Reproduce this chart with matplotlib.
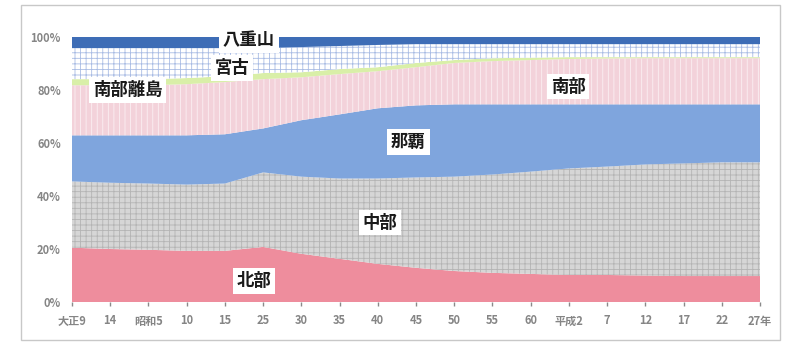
import matplotlib
matplotlib.use("Agg")
import matplotlib.pyplot as plt
from matplotlib.patches import Rectangle
import numpy as np

plt.rcParams["font.family"] = ["Noto Sans CJK JP", "DejaVu Sans"]
plt.rcParams["hatch.linewidth"] = 0.6

# Census years (category axis)
years = ["大正9", "14", "昭和5", "10", "15", "25", "30", "35", "40", "45",
         "50", "55", "60", "平成2", "7", "12", "17", "22", "27年"]

# Regional share of population (%), bottom to top of the stack
hokubu = [20.5, 20.0, 19.7, 19.3, 19.3, 20.8, 18.2, 16.3, 14.4, 12.9,
          11.7, 11.0, 10.6, 10.2, 10.2, 10.0, 9.8, 9.8, 9.8]
chubu = [25.0, 25.0, 25.0, 25.0, 25.4, 28.1, 29.1, 30.3, 32.2, 34.1,
         35.6, 37.1, 38.6, 40.2, 40.9, 41.9, 42.5, 42.9, 42.9]
naha = [17.4, 17.9, 18.2, 18.6, 18.6, 16.6, 21.3, 24.2, 26.5, 27.2,
        27.3, 26.5, 25.4, 24.2, 23.5, 22.7, 22.3, 21.9, 21.9]
nanbu = [18.9, 18.9, 18.9, 19.3, 19.7, 18.6, 16.2, 15.2, 14.0, 14.4,
         15.6, 16.3, 16.7, 17.1, 17.3, 17.4, 17.4, 17.4, 17.4]
nanbu_ritou = [2.3, 2.3, 2.3, 2.3, 2.2, 2.3, 1.9, 1.9, 1.5, 1.6,
               1.1, 1.1, 0.9, 0.7, 0.5, 0.4, 0.4, 0.4, 0.4]
miyako = [11.7, 11.7, 11.7, 11.3, 10.6, 9.4, 9.5, 8.7, 8.4, 7.1,
          6.0, 5.3, 5.1, 4.9, 4.9, 4.9, 4.9, 4.9, 4.9]
yaeyama = [4.2, 4.2, 4.2, 4.2, 4.2, 4.2, 3.8, 3.4, 3.0, 2.7,
           2.7, 2.7, 2.7, 2.7, 2.7, 2.7, 2.7, 2.7, 2.7]

series = [hokubu, chubu, naha, nanbu, nanbu_ritou, miyako, yaeyama]
fills = ["#EE8D9D", "#D6D6D6", "#7FA5DD", "#F3D2DA", "#D9EFA8", "#FFFFFF", "#3E6DB6"]
hatches = [None, "+++", None, "|||", None, "+++", None]
hatch_colors = [None, "#B4B4B4", None, "#FBF0F3", None, "#A9BCE4", None]

fig = plt.figure(figsize=(7.87, 3.44), dpi=100)
ax = fig.add_axes([72 / 787, 1 - 302 / 344, 688 / 787, 265 / 344])

x = np.arange(len(years))
values = np.array(series, dtype=float)
shares = values / values.sum(axis=0) * 100  # 100% stacked

polys = ax.stackplot(x, shares, colors=fills, linewidth=0)
for poly, h, hc in zip(polys, hatches, hatch_colors):
    if h:
        poly.set_hatch(h)
        poly.set_edgecolor(hc)
        poly.set_linewidth(0)

ax.set_xlim(0, len(years) - 1)
ax.set_ylim(0, 100)
ax.set_xticks(x)
ax.set_xticklabels(years)
ax.set_yticks(range(0, 101, 20))
ax.yaxis.set_major_formatter(lambda v, p: f"{int(v)}%")

for s in ax.spines.values():
    s.set_visible(False)

ax.tick_params(axis="y", length=0, pad=8, labelsize=8, labelcolor="#858585")
ax.tick_params(axis="x", length=3, width=1, color="#8A8A8A", pad=6,
               labelsize=8, labelcolor="#858585")
for lbl in ax.get_xticklabels() + ax.get_yticklabels():
    lbl.set_fontweight("bold")

# Region labels in white boxes
labels = [
    ("八重山", 4.63, 98.9),
    ("宮古", 4.19, 88.3),
    ("南部離島", 1.45, 79.9),
    ("南部", 12.98, 81.3),
    ("那覇", 8.80, 60.4),
    ("中部", 8.06, 30.0),
    ("北部", 4.76, 7.9),
]
for text, lx, ly in labels:
    ax.text(lx, ly, text, ha="center", va="center", fontsize=12.5,
            fontweight="bold", color="#1A1A1A", zorder=5, clip_on=False,
            bbox=dict(boxstyle="square,pad=0.22", fc="white", ec="none"))

# Outer chart border
fig.patches.append(Rectangle((21 / 787, 1 - 340 / 344), 759 / 787, 335 / 344,
                             transform=fig.transFigure, fill=False,
                             edgecolor="#C8C8C8", linewidth=1))

fig.savefig("out.png", dpi=100)
